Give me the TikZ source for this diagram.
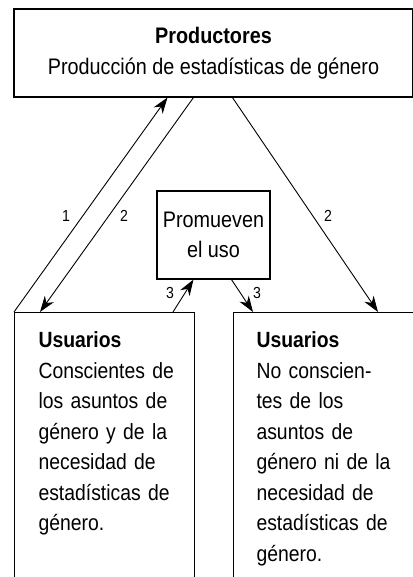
\documentclass[tikz,border=0pt]{standalone}
\usepackage{fontspec}
\setmainfont[FakeStretch=0.88]{Liberation Sans}
\usepackage{tikz}
\usetikzlibrary{arrows.meta,positioning}

\begin{document}
\begin{tikzpicture}[x=1pt,y=-1pt,
    box/.style={draw, line width=1.1pt, inner sep=0pt, align=center, font=\fontsize{22.5}{30.5}\selectfont},
    usr/.style={draw, line width=1.1pt, anchor=north west, inner xsep=24pt, inner ysep=0pt, align=left,
        text height=35pt, text depth=300pt, font=\fontsize{22}{30.5}\selectfont},
    num/.style={font=\fontsize{16}{18}\selectfont, inner sep=0pt},
    flecha/.style={line width=0.9pt, -{Stealth[length=16pt,width=11pt,inset=5pt]}}]
    \path[use as bounding box, fill=white] (0,0) rectangle (412,577);

    % cajas
    \node[box, minimum width=399pt, minimum height=88pt] (prod) at (213.5,53)
        {\textbf{Productores}\\Producción de estadísticas de género};
    \node[box, minimum width=113pt, minimum height=88pt] (prom) at (213.5,235)
        {Promueven\\el uso};
    \node[usr, text width=132pt] (con) at (14,312)
        {\textbf{Usuarios}\\Conscientes~de\\los~asuntos~de\\género~y~de~la\\necesidad~de\\estadísticas~de\\género.};
    \node[usr, inner xsep=23pt, text width=170pt] (nocon) at (233,312)
        {\textbf{Usuarios}\\No~conscien-\\tes~de~los\\asuntos~de\\género~ni~de~la\\necesidad~de\\estadísticas~de\\género.};

    % flechas
    \draw[flecha] (con.north west) -- ([xshift=154pt]prod.south west);
    \draw[flecha] ([xshift=180pt]prod.south west) -- ([xshift=26pt]con.north west);
    \draw[flecha] ([xshift=219pt]prod.south west) -- ([xshift=145pt]nocon.north west);
    \draw[flecha] ([xshift=159pt]con.north west) -- ([xshift=37pt]prom.south west);
    \draw[flecha] ([xshift=75pt]prom.south west) -- ([xshift=20pt]nocon.north west);

    \node[num] (n1) at (66,216) {1};
    \node[num] (n2) at (124,216) {2};
    \node[num] (n2b) at (328,216) {2};
    \node[num] (n3) at (170,293) {3};
    \node[num] (n3b) at (257,293) {3};
\end{tikzpicture}
\end{document}
